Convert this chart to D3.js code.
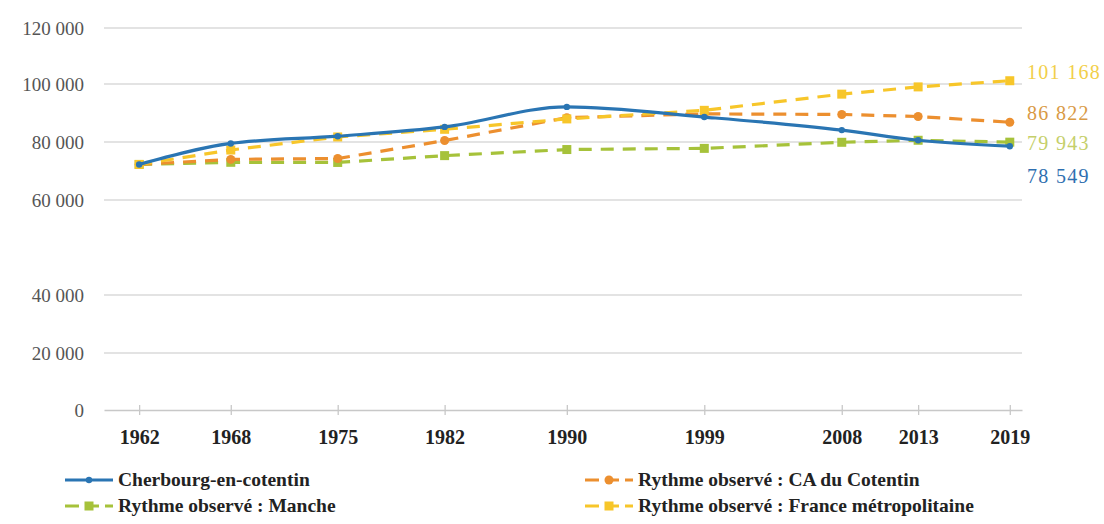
<!DOCTYPE html>
<html><head><meta charset="utf-8">
<script src="https://cdn.jsdelivr.net/npm/d3@7"></script>
<style>
html,body{margin:0;padding:0;background:#fff;}
svg{display:block;}
svg text{font-family:"Liberation Serif","Times New Roman","DejaVu Serif",serif !important;}
</style></head>
<body>
<svg id="c" width="1104" height="524"></svg>
<script>
const years = [1962, 1968, 1975, 1982, 1990, 1999, 2008, 2013, 2019];
const cherbourg = [72260, 79500, 82000, 85200, 92100, 88600, 84100, 80600, 78549];
const caCotentin = [72260, 74000, 74300, 80500, 88400, 89700, 89500, 88800, 86822];
const manche = [72260, 73000, 72950, 75300, 77400, 77800, 79900, 80600, 79943];
const france = [72260, 77230, 81740, 84380, 87960, 90920, 96500, 99000, 101168];
const yTicks = [0, 20000, 40000, 60000, 80000, 100000, 120000];
const seriesNames = ["Cherbourg-en-cotentin", "Rythme observé : CA du Cotentin", "Rythme observé : Manche", "Rythme observé : France métropolitaine"];
const endLabels = ["78 549", "86 822", "79 943", "101 168"];

const svg = d3.select("#c");
const x = d3.scaleLinear().domain([1959.7, 2019.8]).range([104, 1022]);
// axis gridlines in the source are unevenly spaced; piecewise linear scale reproduces that
const y = d3.scaleLinear().domain(yTicks).range([410, 353, 295, 200, 142, 84, 28]);

// gridlines
svg.append("g").selectAll("line").data(yTicks.filter(d => d > 0)).join("line")
  .attr("x1", 104).attr("x2", 1022)
  .attr("y1", d => y(d)).attr("y2", d => y(d))
  .attr("stroke", "#dadada").attr("stroke-width", 1.3);

// y axis labels
const yAxis = d3.axisLeft(y).tickValues(yTicks).tickSize(0).tickPadding(0)
  .tickFormat(d => d3.format(",")(d).replace(/,/g, " "));
const gy = svg.append("g").attr("transform", "translate(84,0)").call(yAxis);
gy.select(".domain").remove();
gy.selectAll("text").attr("font-size", 19).attr("fill", "#555");

// x axis
const xAxis = d3.axisBottom(x).tickValues(years).tickSize(0).tickPadding(20).tickFormat(d3.format("d"));
const gx = svg.append("g").attr("transform", "translate(0,410)").call(xAxis);
gx.select(".domain").attr("stroke", "#c8c8c8").attr("stroke-width", 1.3);
gx.selectAll("text").attr("font-size", 20).attr("font-weight", "bold").attr("fill", "#222");
gx.selectAll(".tick").append("line").attr("y1", -5).attr("y2", 5).attr("stroke", "#c8c8c8").attr("stroke-width", 1.3);

const series = [
  {name: seriesNames[0], values: cherbourg, color: "#2a75b3", dash: null, marker: "circle", r: 3.2, curve: d3.curveMonotoneX, label: endLabels[0], labelColor: "#2f6fb0"},
  {name: seriesNames[1], values: caCotentin, color: "#ec8f2f", dash: "13,9", marker: "circle", r: 4.5, curve: d3.curveLinear, label: endLabels[1], labelColor: "#d99a45"},
  {name: seriesNames[2], values: manche, color: "#a6c23a", dash: "13,9", marker: "square", r: 4.5, curve: d3.curveLinear, label: endLabels[2], labelColor: "#c5cf6a"},
  {name: seriesNames[3], values: france, color: "#f7c62a", dash: "13,9", marker: "square", r: 4.5, curve: d3.curveLinear, label: endLabels[3], labelColor: "#f2cf4a"}
];

const drawOrder = [2, 1, 3, 0];
drawOrder.forEach(i => {
  const s = series[i];
  const pts = years.map((yr, k) => [yr, s.values[k]]);
  const line = d3.line().x(d => x(d[0])).y(d => y(d[1])).curve(s.curve);
  svg.append("path").datum(pts).attr("d", line).attr("fill", "none")
    .attr("stroke", s.color).attr("stroke-width", 3.2)
    .attr("stroke-dasharray", s.dash);
  const g = svg.append("g");
  if (s.marker === "circle") {
    g.selectAll("circle").data(pts).join("circle")
      .attr("cx", d => x(d[0])).attr("cy", d => y(d[1])).attr("r", s.r).attr("fill", s.color);
  } else {
    g.selectAll("rect").data(pts).join("rect")
      .attr("x", d => x(d[0]) - s.r).attr("y", d => y(d[1]) - s.r)
      .attr("width", s.r * 2).attr("height", s.r * 2).attr("fill", s.color);
  }
});

// end value labels
const labelY = [176, 113, 143, 72];
series.forEach((s, i) => {
  svg.append("text").attr("x", 1027).attr("y", labelY[i]).attr("dy", "0.35em")
    .attr("font-size", 20).attr("fill", s.labelColor).attr("letter-spacing", 1.3)
    .text(s.label);
});

// legend
const legendPos = [[65, 480], [585, 480], [65, 506], [585, 506]];
series.forEach((s, i) => {
  const [lx, ly] = legendPos[i];
  const g = svg.append("g").attr("transform", `translate(${lx},${ly})`);
  g.append("line").attr("x1", 0).attr("x2", 48).attr("y1", 0).attr("y2", 0)
    .attr("stroke", s.color).attr("stroke-width", 3.2)
    .attr("stroke-dasharray", s.dash ? "14,6" : null);
  if (s.marker === "circle") g.append("circle").attr("cx", 24).attr("cy", 0).attr("r", s.r).attr("fill", s.color);
  else g.append("rect").attr("x", 24 - s.r).attr("y", -s.r).attr("width", s.r * 2).attr("height", s.r * 2).attr("fill", s.color);
  g.append("text").attr("x", 53).attr("y", 0).attr("dy", "0.33em")
    .attr("font-size", 19.5).attr("font-weight", "bold").attr("fill", "#222").text(s.name);
});
</script>
</body></html>
